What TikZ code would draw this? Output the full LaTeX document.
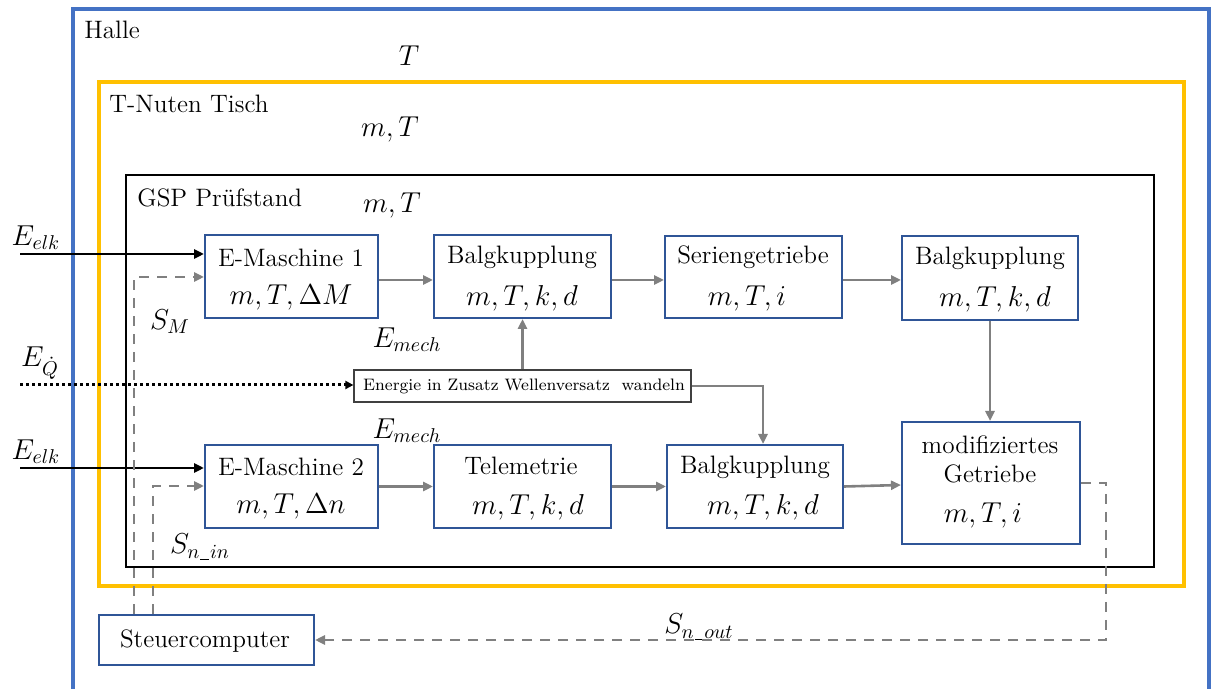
\documentclass[tikz,border=0pt]{standalone}
\usetikzlibrary{arrows.meta,calc}
\definecolor{hallblue}{HTML}{4472C4}
\definecolor{tischorange}{HTML}{FFC000}
\definecolor{boxblue}{HTML}{2F5597}
\definecolor{flowgray}{HTML}{808080}
\newcommand{\usc}{\kern0.03em\rule[-0.8pt]{0.32em}{0.5pt}\kern0.03em}
\begin{document}
\begin{tikzpicture}[x=0.5pt,y=-0.5pt,
  font=\fontsize{12.6}{15}\selectfont,
  blk/.style={draw=boxblue, line width=1pt, fill=white, inner sep=0pt},
  txt/.style={inner sep=0pt, anchor=center},
  mtxt/.style={inner sep=0pt, anchor=center, font=\fontsize{13.5}{15}\selectfont},
  lbl/.style={inner sep=0pt, anchor=west},
  mlbl/.style={inner sep=0pt, anchor=center, font=\fontsize{14}{16}\selectfont},
  garr/.style={draw=flowgray, line width=1.3pt, -{Triangle[length=5pt,width=4.5pt]}},
  gdash/.style={draw=flowgray, line width=1.3pt, dash pattern=on 5pt off 4pt},
  barr/.style={draw=black, line width=1.3pt, -{Triangle[length=5pt,width=4.5pt]}},
  bdot/.style={draw=black, line width=1.5pt, dash pattern=on 1.5pt off 1.5pt, -{Triangle[length=4pt,width=4pt]}}
]
\useasboundingbox (0,0) rectangle (1211,689);
% containers
\draw[hallblue, line width=2pt] (73,700) -- (73,9) -- (1209,9) -- (1209,700);
\draw[tischorange, line width=2pt] (99,82) rectangle (1184,586);
\draw[black, line width=1pt] (126,175) rectangle (1154,567);
\node[lbl] (lhalle) at (84,30) {Halle};
\node[mlbl] (thalle) at (409,56) {$T$};
\node[lbl] (ltisch) at (109,104) {T-Nuten Tisch};
\node[mlbl] (ttisch) at (390,129) {$m,T$};
\node[lbl] (lgsp) at (137,198) {GSP Prüfstand};
\node[mlbl] (tgsp) at (392,205) {$m,T$};
% blocks
\node[blk, minimum width=86.5pt, minimum height=41.5pt] (em1) at (291.5,276.5) {};
\node[blk, minimum width=88.5pt, minimum height=41.5pt] (bk1) at (522.5,276.5) {};
\node[blk, minimum width=88.5pt, minimum height=41pt] (sg) at (753.5,277) {};
\node[blk, minimum width=88pt, minimum height=42pt] (bk2) at (990,278) {};
\node[blk, minimum width=86.5pt, minimum height=41.5pt] (em2) at (291.5,486.5) {};
\node[blk, minimum width=88.5pt, minimum height=41.5pt] (tel) at (522.5,486.5) {};
\node[blk, minimum width=88pt, minimum height=41.5pt] (bk3) at (755,486.5) {};
\node[blk, minimum width=89pt, minimum height=61pt] (mod) at (991,483) {};
\node[blk, minimum width=107.5pt, minimum height=25pt] (sc) at (206.5,640) {};
\node[draw=black!75, line width=0.6pt, fill=white, inner sep=0pt, minimum width=168.5pt, minimum height=16pt] (en) at (522.5,386) {};
% block texts
\node[txt] (t1a) at (291,258) {E-Maschine 1};
\node[mtxt] (t1b) at (291,297) {$m,T,\Delta M$};
\node[txt] (t2a) at (522,257) {Balgkupplung};
\node[mtxt] (t2b) at (522,298) {$m,T,k,d$};
\node[txt] (t3a) at (753,257) {Seriengetriebe};
\node[mtxt] (t3b) at (747,298) {$m,T,i$};
\node[txt] (t4a) at (990,258) {Balgkupplung};
\node[mtxt] (t4b) at (995,299) {$m,T,k,d$};
\node[txt] (t5a) at (291,467) {E-Maschine 2};
\node[mtxt] (t5b) at (291,506) {$m,T,\Delta n$};
\node[txt] (t6a) at (521,466) {Telemetrie};
\node[mtxt] (t6b) at (528,507) {$m,T,k,d$};
\node[txt] (t7a) at (755,467) {Balgkupplung};
\node[mtxt] (t7b) at (763,507) {$m,T,k,d$};
\node[txt] (t8a) at (990,445) {modifiziertes};
\node[txt] (t8b) at (990,474) {Getriebe};
\node[mtxt] (t8c) at (983,515) {$m,T,i$};
\node[txt] (t9) at (205,641) {Steuercomputer};
\node[txt, font=\fontsize{8.3}{10}\selectfont] (t10) at (524,386) {Energie in Zusatz Wellenversatz\ \ wandeln};
% math labels
\node[mlbl] (eelk1) at (36,238) {$E_{elk}$};
\node[mlbl] (eelk2) at (36,452) {$E_{elk}$};
\node[mlbl] (sm) at (170,322) {$S_M$};
\node[mlbl] (eq) at (40,363) {$E_{\dot Q}$};
\node[mlbl] (emech1) at (407,340) {$E_{mech}$};
\node[mlbl] (emech2) at (407,431) {$E_{mech}$};
\node[mlbl] (snin) at (200,547) {$S_{n\usc in}$};
\node[mlbl] (snout) at (699,627) {$S_{n\usc out}$};
% free ends
\coordinate (in1) at (20,254);
\coordinate (in2) at (20,468);
\coordinate (inq) at (20,385);
\coordinate (d1) at (134,277);
\coordinate (d2) at (153,486);
\coordinate (d3) at (1106,483);
\coordinate (d4) at (763,386);
% connectors
\draw[barr] (in1) -- (in1 -| em1.west);
\draw[barr] (in2) -- (in2 -| em2.west);
\draw[bdot] (inq) -- (inq -| en.west);
\draw[garr] ($(em1.east)+(0,3.5)$) -- ($(bk1.west)+(0,3.5)$);
\draw[garr] ($(bk1.east)+(0,3.5)$) -- ($(sg.west)+(0,3)$);
\draw[garr] ($(sg.east)+(0,3)$) -- ($(bk2.west)+(0,2)$);
\draw[garr] (bk2.south) -- (bk2.south |- mod.north);
\draw[garr] (em2.east) -- (tel.west);
\draw[garr] (tel.east) -- (bk3.west);
\draw[garr] (bk3.east) -- ($(mod.west)+(0,2)$);
\draw[garr] (en.north -| bk1.south) -- (bk1.south);
\draw[garr] (en.east) -- (d4) -- (d4 |- bk3.north);
\draw[gdash, -{Triangle[length=5pt,width=4.5pt]}] (sc.north -| d1) -- (d1) -- (d1 -| em1.west);
\draw[gdash, -{Triangle[length=5pt,width=4.5pt]}] (sc.north -| d2) -- (d2) -- (d2 -| em2.west);
\draw[gdash, -{Triangle[length=5pt,width=4.5pt]}] (d3 -| mod.east) -- (d3) |- (sc.east);
\end{tikzpicture}
\end{document}
